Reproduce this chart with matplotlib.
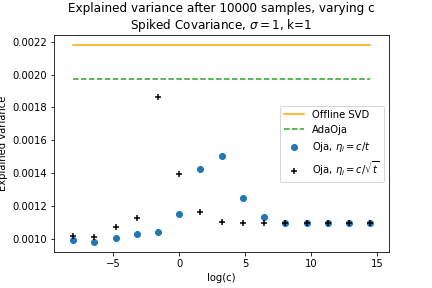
import numpy as np
import matplotlib
matplotlib.use('Agg')
import matplotlib.pyplot as plt

# c = 5^k, k = -5..9
k_vals = np.arange(-5, 10)
log_c = k_vals * np.log(5)

offline_svd = 0.002178
adaoja = 0.001973

oja_c_over_t = [0.000994, 0.000982, 0.001006, 0.001032, 0.001042, 0.00115,
                0.001424, 0.001506, 0.001253, 0.001134, 0.001097, 0.001096,
                0.001096, 0.001096, 0.001096]
oja_c_over_sqrt_t = [0.00102, 0.001015, 0.001076, 0.00113, 0.001866, 0.001395,
                     0.001166, 0.001106, 0.0011, 0.0011, 0.001098, 0.001097,
                     0.001097, 0.001097, 0.001097]

fig = plt.figure(figsize=(6, 4), dpi=72)
plt.subplots_adjust(left=0.125, right=0.9, bottom=0.125, top=0.877)

plt.plot(log_c, np.full(len(log_c), offline_svd), color='orange', label='Offline SVD')
plt.plot(log_c, np.full(len(log_c), adaoja), '--', color='C2', label='AdaOja')
plt.scatter(log_c, oja_c_over_t, color='C0', label=r'Oja, $\eta_i=c/t$')
plt.scatter(log_c, oja_c_over_sqrt_t, marker='+', color='k', label=r'Oja, $\eta_i=c/\sqrt{t}$')

plt.xlim(-9.5, 15.9)
plt.title('Explained variance after 10000 samples, varying c\n'
          r'Spiked Covariance, $\sigma=1$, k=1')
plt.xlabel('log(c)')
plt.ylabel('Explained variance')
plt.legend(loc='center right')

plt.savefig('out.png')
